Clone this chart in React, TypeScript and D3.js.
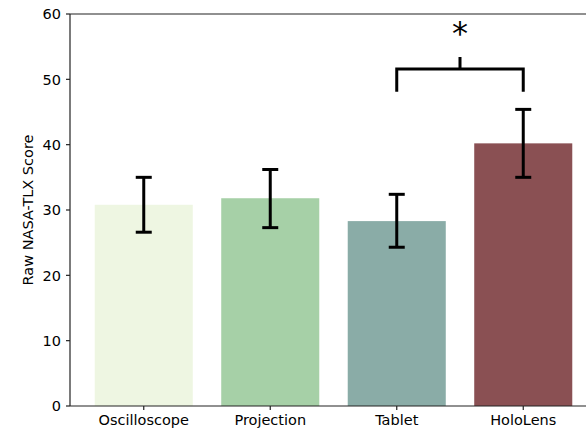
import React, { useEffect } from "react";
import * as d3 from "d3";

const categories = ["Oscilloscope", "Projection", "Tablet", "HoloLens"];
const means = [30.8, 31.8, 28.3, 40.2];
const errLow = [26.6, 27.3, 24.3, 35.0];
const errHigh = [35.0, 36.2, 32.4, 45.4];
const barColors = ["#eef6e2", "#a6d0a7", "#8aaca7", "#8a5053"];
const yTicks = [0, 10, 20, 30, 40, 50, 60];

const W = 586, H = 432;
const left = 70, top = 14, bottom = 406;

export default function App() {
  useEffect(() => {
    document.body.style.margin = "0";
    document.body.style.overflow = "hidden";
  }, []);
  const y = d3.scaleLinear().domain([0, 60]).range([bottom, top]);
  const x = d3.scaleLinear().domain([-0.583, 3.583]).range([left, left + 4.166 * 126.5]);
  const bw = 0.775 * 126.5;
  const font = "DejaVu Sans, sans-serif";
  const bx1 = x(2), bx2 = x(3), bmid = (bx1 + bx2) / 2;
  return (
    <svg width={W} height={H} style={{ position: "absolute", left: 0, top: 0, display: "block" }}>
      <rect width={W} height={H} fill="white" />
      {categories.map((c, i) => (
        <rect key={c} x={x(i) - bw / 2} y={y(means[i])} width={bw} height={bottom - y(means[i])} fill={barColors[i]} />
      ))}
      {categories.map((c, i) => (
        <g key={c + "e"} stroke="black" strokeWidth={3}>
          <line x1={x(i)} x2={x(i)} y1={y(errLow[i])} y2={y(errHigh[i])} />
          <line x1={x(i) - 8} x2={x(i) + 8} y1={y(errLow[i])} y2={y(errLow[i])} />
          <line x1={x(i) - 8} x2={x(i) + 8} y1={y(errHigh[i])} y2={y(errHigh[i])} />
        </g>
      ))}
      <path
        d={`M${bx1},${y(48.1)}V${y(51.6)}H${bx2}V${y(48.1)}M${bmid},${y(51.6)}V${y(53.4)}`}
        fill="none" stroke="black" strokeWidth={3}
      />
      <text x={bmid} y={y(55.4)} textAnchor="middle" fontFamily={font} fontSize={32}>*</text>
      <line x1={left} x2={W} y1={top} y2={top} stroke="#222" strokeWidth={1.2} />
      <line x1={left} x2={left} y1={top} y2={bottom} stroke="#222" strokeWidth={1.2} />
      <line x1={left} x2={W} y1={bottom} y2={bottom} stroke="#222" strokeWidth={1.2} />
      {yTicks.map((t) => (
        <g key={t}>
          <line x1={left - 4} x2={left} y1={y(t)} y2={y(t)} stroke="#222" strokeWidth={1.2} />
          <text x={left - 9} y={y(t)} dy="0.36em" textAnchor="end" fontFamily={font} fontSize={14.5}>{t}</text>
        </g>
      ))}
      {categories.map((c, i) => (
        <g key={c + "t"}>
          <line x1={x(i)} x2={x(i)} y1={bottom} y2={bottom + 4} stroke="#222" strokeWidth={1.2} />
          <text x={x(i)} y={bottom + 19} textAnchor="middle" fontFamily={font} fontSize={14.5}>{c}</text>
        </g>
      ))}
      <text transform={`translate(33,${(top + bottom) / 2}) rotate(-90)`} textAnchor="middle" fontFamily={font} fontSize={14.5}>Raw NASA-TLX Score</text>
    </svg>
  );
}
